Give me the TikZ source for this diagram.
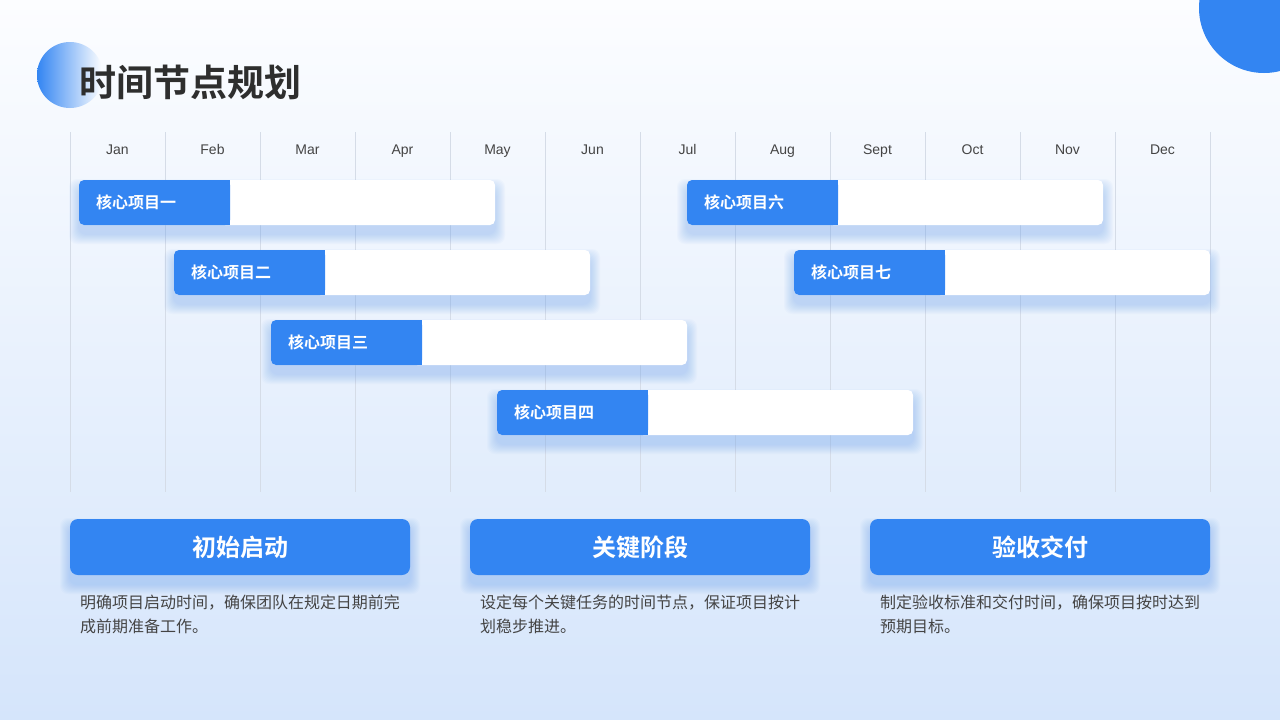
\documentclass[tikz,border=0pt]{standalone}
\usepackage{fontspec}
\setmainfont{Liberation Sans}
\newfontfamily\cjk{Noto Sans CJK SC}[BoldFont={Noto Sans CJK SC Bold}]
\usetikzlibrary{positioning,calc}
\definecolor{PlanBlue}{HTML}{3385F2}
\definecolor{PlanInk}{HTML}{2E2E2E}
\definecolor{PlanText}{HTML}{444444}
\definecolor{PlanGrid}{HTML}{D5DCE7}
\definecolor{PlanBgTop}{HTML}{FCFDFF}
\definecolor{PlanBgMid}{HTML}{E8F0FC}
\definecolor{PlanBgBottom}{HTML}{D5E5FB}
\definecolor{PlanGlow}{HTML}{5E9BF5}
\tikzset{
    % Base node style
    basenode/.style={
        inner sep=0pt,
        outer sep=0pt,
        font=\cjk
    },
    % Month label style
    monthnode/.style={
        basenode,
        anchor=base,
        text=PlanText,
        font=\fontsize{14}{16}\selectfont
    },
    % White track of a bar
    tracknode/.style={
        basenode,
        fill=white,
        rounded corners=5pt,
        minimum width=416pt,
        minimum height=45pt
    },
    % Blue label part of a bar
    labelnode/.style={
        basenode,
        fill=PlanBlue,
        rounded corners=5pt,
        inner xsep=17pt,
        text width=117pt,
        minimum height=45pt,
        align=left,
        text=white,
        font=\cjk\bfseries\fontsize{16}{18}\selectfont
    },
    % Phase header style
    phasenode/.style={
        basenode,
        fill=PlanBlue,
        rounded corners=8pt,
        minimum width=340pt,
        minimum height=56pt,
        text=white,
        font=\cjk\bfseries\fontsize{24}{28}\selectfont
    },
    % Description text
    descnode/.style={
        basenode,
        anchor=north west,
        align=left,
        text=PlanText,
        font=\cjk\fontsize{16}{24}\selectfont
    },
    % Soft glow under boxes
    glow/.style={
        fill=PlanGlow,
        opacity=0.035,
        rounded corners=8pt
    }
}
\begin{document}
\begin{tikzpicture}[x=1pt, y=-1pt]
    \useasboundingbox (0,0) rectangle (1280,720);
    \clip (0,0) rectangle (1280,720);
    % background
    \shade[top color=PlanBgTop, middle color=PlanBgMid, bottom color=PlanBgBottom] (0,0) rectangle (1280,720);
    \fill[PlanBlue] (1264,8) circle (65pt);
    \shade[left color=PlanBlue, right color=white] (70,75) circle (33pt);
    \node[basenode, anchor=west, text=PlanInk, font=\cjk\bfseries\fontsize{37}{40}\selectfont] (title) at (79,82) {时间节点规划};

    % grid and months
    \foreach \i in {0,...,12}
        \draw[PlanGrid, line width=0.8pt] (70+95*\i,132) -- (70+95*\i,492);
    \foreach \m [count=\i from 0] in {Jan,Feb,Mar,Apr,May,Jun,Jul,Aug,Sept,Oct,Nov,Dec}
        \node[monthnode] (month\i) at (117.5+95*\i,154) {\m};

    % bars
    \foreach \x/\y/\n/\txt in {79/180/1/核心项目一, 174/250/2/核心项目二, 271/320/3/核心项目三,
                               497/390/4/核心项目四, 687/180/6/核心项目六, 794/250/7/核心项目七} {
        \foreach \g in {2,4,...,20}
            \fill[glow] (\x-\g/2,\y+9-\g/2) rectangle ++(416+\g,45+\g);
        \node[tracknode, anchor=north west] (track\n) at (\x,\y) {};
        \fill[PlanBlue] ($(track\n.north west)+(75,0)$) rectangle ($(track\n.south west)+(151,0)$);
        \node[labelnode, anchor=west] (label\n) at (track\n.west) {\txt};
    }

    % phases
    \foreach \x/\n/\head/\lineA/\lineB in {70/1/初始启动/明确项目启动时间，确保团队在规定日期前完/成前期准备工作。,
                                           470/2/关键阶段/设定每个关键任务的时间节点，保证项目按计/划稳步推进。,
                                           870/3/验收交付/制定验收标准和交付时间，确保项目按时达到/预期目标。} {
        \foreach \g in {2,4,...,20}
            \fill[glow] (\x-\g/2,519+9-\g/2) rectangle ++(340+\g,56+\g);
        \node[phasenode, anchor=north west] (phase\n) at (\x,519) {\head};
        \node[descnode] (desc\n) at (\x+10,595) {\lineA\\\lineB};
    }
\end{tikzpicture}
\end{document}
